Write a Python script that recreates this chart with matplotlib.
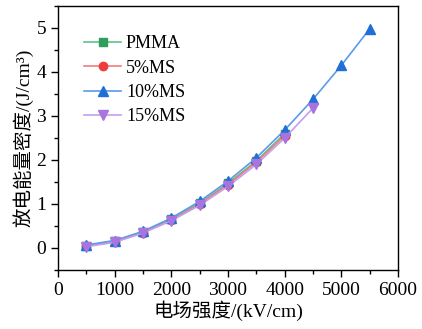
import numpy as np
import matplotlib.pyplot as plt
from matplotlib.ticker import MultipleLocator

plt.rcParams['font.family'] = ['Liberation Serif', 'Noto Sans CJK SC']

# ── data ─────────────────────────────────────────────────────────
field_short = [500, 1000, 1500, 2000, 2500, 3000, 3500, 4000]
field_15 = field_short + [4500]
field_10 = field_short + [4500, 5000, 5500]

pmma = [0.05, 0.15, 0.36, 0.65, 1.02, 1.47, 1.98, 2.60]
ms5 = [0.04, 0.14, 0.35, 0.63, 1.00, 1.44, 1.95, 2.55]
ms10 = [0.07, 0.17, 0.38, 0.68, 1.06, 1.52, 2.05, 2.68, 3.38, 4.15, 4.98]
ms15 = [0.03, 0.13, 0.34, 0.62, 0.97, 1.40, 1.90, 2.50, 3.18]

fig = plt.figure(figsize=(4.22, 3.29), dpi=100)
ax = fig.add_axes([58/422, 1 - 270/329, 340/422, 264/329])

ax.plot(field_short, pmma, color='#5cc38a', marker='s', mfc='#2e9e5e', mec='#2e9e5e',
        ms=5.5, lw=1.2, label='PMMA')
ax.plot(field_short, ms5, color='#f37b7b', marker='o', mfc='#ee3b3b', mec='#ee3b3b',
        ms=6, lw=1.2, label='5%MS')
ax.plot(field_10, ms10, color='#5b9be8', marker='^', mfc='#1f6fd6', mec='#1f6fd6',
        ms=7, lw=1.2, label='10%MS')
ax.plot(field_15, ms15, color='#c49ef0', marker='v', mfc='#a875e0', mec='#a875e0',
        ms=7, lw=1.2, label='15%MS')

ax.set_xlim(0, 6000)
ax.set_ylim(-0.5, 5.5)
ax.xaxis.set_major_locator(MultipleLocator(1000))
ax.xaxis.set_minor_locator(MultipleLocator(500))
ax.yaxis.set_major_locator(MultipleLocator(1))
ax.yaxis.set_minor_locator(MultipleLocator(0.5))
ax.tick_params(which='both', direction='out', labelsize=14, width=1)
ax.tick_params(which='major', length=5)
ax.tick_params(which='minor', length=3)
for s in ax.spines.values():
    s.set_linewidth(1)

ax.set_xlabel('电场强度/(kV/cm)', fontsize=14, labelpad=1)
ax.set_ylabel('放电能量密度/(J/cm³)', fontsize=14, labelpad=2)

ax.legend(loc='upper left', bbox_to_anchor=(0.03, 0.95), frameon=False,
          fontsize=13, handlelength=2.0, labelspacing=0.4, handletextpad=0.3)

fig.savefig('out.png', dpi=100)
